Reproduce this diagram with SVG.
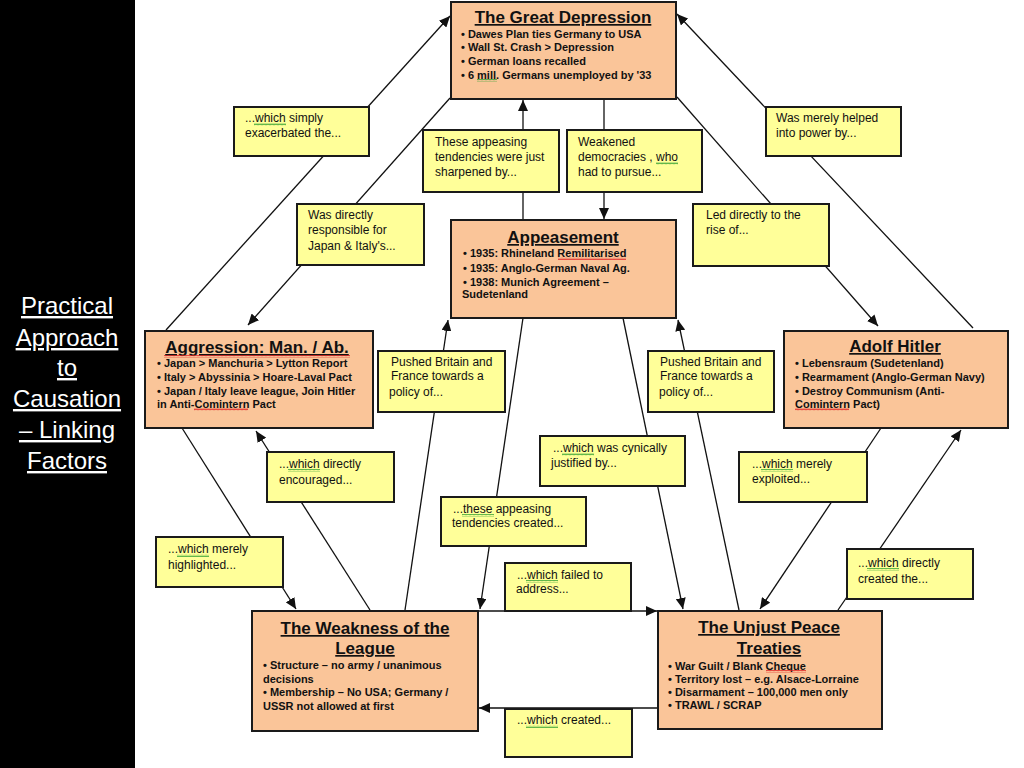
<svg xmlns="http://www.w3.org/2000/svg" width="1024" height="768" viewBox="0 0 1024 768">
<defs>
<marker id="arr" markerUnits="userSpaceOnUse" markerWidth="12" markerHeight="10" refX="11" refY="5" orient="auto">
<path d="M0,0 L11,5 L0,10 Z" fill="#111"/>
</marker>
<pattern id="wg" width="4" height="3" patternUnits="userSpaceOnUse"><path d="M0,2.2 L1,0.6 L2,2.2 L3,0.6 L4,2.2" stroke="#2e9e2e" stroke-width="0.8" fill="none"/></pattern>
<pattern id="wr" width="4" height="3" patternUnits="userSpaceOnUse"><path d="M0,2.2 L1,0.6 L2,2.2 L3,0.6 L4,2.2" stroke="#e02020" stroke-width="0.8" fill="none"/></pattern>
</defs>
<style>
.node{fill:#FAC599;stroke:#1a1a1a;stroke-width:2}
.lab{fill:#FFFF99;stroke:#1a1a1a;stroke-width:2}
.t{font-family:"Liberation Sans",Arial,sans-serif;font-size:17px;font-weight:bold;text-decoration:underline;fill:#111;text-anchor:middle}
.b{font-family:"Liberation Sans",Arial,sans-serif;font-size:11px;font-weight:bold;fill:#111}
.l{font-family:"Liberation Sans",Arial,sans-serif;font-size:12px;fill:#111}
.side{font-family:"Liberation Sans",Arial,sans-serif;font-size:24px;fill:#fff;text-anchor:middle;text-decoration:underline}
.c{stroke:#111;stroke-width:1.3;fill:none;marker-end:url(#arr)}
.sg{fill:url(#wg)}
.sr{fill:url(#wr)}
</style>
<rect x="0" y="0" width="1024" height="768" fill="#fff"/>
<rect x="0" y="0" width="135" height="768" fill="#000"/>
<g id="title-panel">
<text class="side" x="67" y="314">Practical</text>
<text class="side" x="67" y="346">Approach</text>
<text class="side" x="67" y="376">to</text>
<text class="side" x="67" y="407">Causation</text>
<text class="side" x="67" y="438">– Linking</text>
<text class="side" x="67" y="469">Factors</text>
</g>
<g id="connectors">
<line class="c" x1="166" y1="330" x2="450" y2="16"/>
<line class="c" x1="450" y1="98" x2="248" y2="325"/>
<line class="c" x1="523" y1="220" x2="523" y2="100"/>
<line class="c" x1="604" y1="99" x2="604" y2="219"/>
<line class="c" x1="973" y1="328" x2="677" y2="14"/>
<line class="c" x1="677" y1="97" x2="878" y2="326"/>
<line class="c" x1="182" y1="428" x2="296" y2="609"/>
<line class="c" x1="370" y1="610" x2="256" y2="431"/>
<line class="c" x1="405" y1="610" x2="448" y2="320"/>
<line class="c" x1="523" y1="318" x2="480" y2="609"/>
<line class="c" x1="623" y1="318" x2="683" y2="609"/>
<line class="c" x1="739" y1="610" x2="678" y2="320"/>
<line class="c" x1="881" y1="428" x2="760" y2="609"/>
<line class="c" x1="838" y1="610" x2="961" y2="430"/>
<line class="c" x1="478" y1="611" x2="657" y2="611"/>
<line class="c" x1="658" y1="708" x2="479" y2="708"/>
</g>
<g id="great-depression">
<rect class="node" x="451" y="2" width="225" height="97"/>
<text class="t" x="563" y="23">The Great Depression</text>
<text class="b" x="461" y="38">• Dawes Plan ties Germany to USA</text>
<text class="b" x="461" y="51">• Wall St. Crash &gt; Depression</text>
<text class="b" x="461" y="65">• German loans recalled</text>
<text class="b" x="461" y="79">• 6 mill. Germans unemployed by '33</text>
<rect class="sg" x="477" y="79" width="20" height="3"/>
</g>
<g id="appeasement">
<rect class="node" x="451" y="220" width="225" height="98"/>
<text class="t" x="563" y="243">Appeasement</text>
<text class="b" x="463" y="257">• 1935: Rhineland Remilitarised</text>
<rect class="sr" x="558" y="257" width="68" height="3"/>
<text class="b" x="463" y="272">• 1935: Anglo-German Naval Ag.</text>
<text class="b" x="463" y="286">• 1938: Munich Agreement –</text>
<text class="b" x="462" y="298">Sudetenland</text>
</g>
<g id="aggression">
<rect class="node" x="145" y="331" width="228" height="97"/>
<text class="t" x="257" y="353">Aggression: Man. / Ab.</text>
<rect class="sr" x="164" y="355" width="186" height="3"/>
<text class="b" x="157" y="367">• Japan &gt; Manchuria &gt; Lytton Report</text>
<text class="b" x="157" y="381">• Italy &gt; Abyssinia &gt; Hoare-Laval Pact</text>
<text class="b" x="157" y="395">• Japan / Italy leave league, Join Hitler</text>
<text class="b" x="157" y="408">in Anti-Comintern Pact</text>
<rect class="sr" x="194" y="408" width="54" height="3"/>
</g>
<g id="hitler">
<rect class="node" x="784" y="331" width="224" height="97"/>
<text class="t" x="895" y="352">Adolf Hitler</text>
<text class="b" x="795" y="367">• Lebensraum (Sudetenland)</text>
<text class="b" x="795" y="381">• Rearmament (Anglo-German Navy)</text>
<text class="b" x="795" y="395">• Destroy Communism (Anti-</text>
<text class="b" x="795" y="408">Comintern Pact)</text>
<rect class="sr" x="795" y="408" width="54" height="3"/>
</g>
<g id="weakness-league">
<rect class="node" x="252" y="611" width="226" height="120"/>
<text class="t" x="365" y="634">The Weakness of the</text>
<text class="t" x="365" y="654">League</text>
<text class="b" x="263" y="669">• Structure – no army / unanimous</text>
<text class="b" x="263" y="683">decisions</text>
<text class="b" x="263" y="696">• Membership – No USA; Germany /</text>
<text class="b" x="263" y="710">USSR not allowed at first</text>
</g>
<g id="unjust-peace">
<rect class="node" x="658" y="611" width="224" height="118"/>
<text class="t" x="769" y="633">The Unjust Peace</text>
<text class="t" x="769" y="654">Treaties</text>
<text class="b" x="668" y="670">• War Guilt / Blank Cheque</text>
<rect class="sr" x="766" y="670" width="40" height="3"/>
<text class="b" x="668" y="683">• Territory lost – e.g. Alsace-Lorraine</text>
<text class="b" x="668" y="696">• Disarmament – 100,000 men only</text>
<text class="b" x="668" y="709">• TRAWL / SCRAP</text>
</g>
<g id="label-exacerbated">
<rect class="lab" x="234" y="107" width="135" height="49"/>
<text class="l" x="245" y="122">...which simply</text>
<rect class="sg" x="254" y="123" width="32" height="3"/>
<text class="l" x="245" y="137">exacerbated the...</text>
</g>
<g id="label-responsible">
<rect class="lab" x="297" y="204" width="127" height="61"/>
<text class="l" x="308" y="219">Was directly</text>
<text class="l" x="308" y="234">responsible for</text>
<text class="l" x="308" y="250">Japan &amp; Italy's...</text>
</g>
<g id="label-sharpened">
<rect class="lab" x="423" y="130" width="136" height="62"/>
<text class="l" x="435" y="146">These appeasing</text>
<text class="l" x="435" y="161">tendencies were just</text>
<text class="l" x="435" y="176">sharpened by...</text>
</g>
<g id="label-democracies">
<rect class="lab" x="567" y="130" width="135" height="62"/>
<text class="l" x="578" y="146">Weakened</text>
<text class="l" x="578" y="161">democracies , who</text>
<rect class="sg" x="656" y="162" width="22" height="3"/>
<text class="l" x="578" y="176">had to pursue...</text>
</g>
<g id="label-helped">
<rect class="lab" x="766" y="107" width="135" height="49"/>
<text class="l" x="776" y="122">Was merely helped</text>
<text class="l" x="776" y="137">into power by...</text>
</g>
<g id="label-rise">
<rect class="lab" x="693" y="204" width="136" height="62"/>
<text class="l" x="706" y="219">Led directly to the</text>
<text class="l" x="706" y="234">rise of...</text>
</g>
<g id="label-pushed-left">
<rect class="lab" x="378" y="351" width="127" height="61"/>
<text class="l" x="391" y="366">Pushed Britain and</text>
<text class="l" x="391" y="380">France towards a</text>
<text class="l" x="389" y="396">policy of...</text>
</g>
<g id="label-pushed-right">
<rect class="lab" x="648" y="351" width="126" height="61"/>
<text class="l" x="660" y="366">Pushed Britain and</text>
<text class="l" x="660" y="380">France towards a</text>
<text class="l" x="659" y="396">policy of...</text>
</g>
<g id="label-justified">
<rect class="lab" x="540" y="436" width="145" height="50"/>
<text class="l" x="553" y="452">...which was cynically</text>
<rect class="sg" x="562" y="453" width="32" height="3"/>
<text class="l" x="551" y="467">justified by...</text>
</g>
<g id="label-created-tendencies">
<rect class="lab" x="441" y="497" width="145" height="49"/>
<text class="l" x="453" y="513">...these appeasing</text>
<rect class="sg" x="462" y="514" width="32" height="3"/>
<text class="l" x="452" y="527">tendencies created...</text>
</g>
<g id="label-failed">
<rect class="lab" x="505" y="563" width="126" height="48"/>
<text class="l" x="517" y="579">...which failed to</text>
<rect class="sg" x="526" y="580" width="32" height="3"/>
<text class="l" x="516" y="593">address...</text>
</g>
<g id="label-encouraged">
<rect class="lab" x="267" y="452" width="127" height="50"/>
<text class="l" x="279" y="468">...which directly</text>
<rect class="sg" x="288" y="469" width="32" height="3"/>
<text class="l" x="279" y="484">encouraged...</text>
</g>
<g id="label-highlighted">
<rect class="lab" x="156" y="537" width="127" height="50"/>
<text class="l" x="168" y="553">...which merely</text>
<rect class="sg" x="177" y="554" width="32" height="3"/>
<text class="l" x="168" y="569">highlighted...</text>
</g>
<g id="label-exploited">
<rect class="lab" x="739" y="452" width="128" height="50"/>
<text class="l" x="752" y="468">...which merely</text>
<rect class="sg" x="761" y="469" width="32" height="3"/>
<text class="l" x="752" y="483">exploited...</text>
</g>
<g id="label-created-the">
<rect class="lab" x="847" y="549" width="126" height="50"/>
<text class="l" x="858" y="567">...which directly</text>
<rect class="sg" x="867" y="568" width="32" height="3"/>
<text class="l" x="858" y="583">created the...</text>
</g>
<g id="label-created">
<rect class="lab" x="505" y="709" width="127" height="48"/>
<text class="l" x="517" y="724">...which created...</text>
<rect class="sg" x="526" y="725" width="32" height="3"/>
</g>
</svg>
